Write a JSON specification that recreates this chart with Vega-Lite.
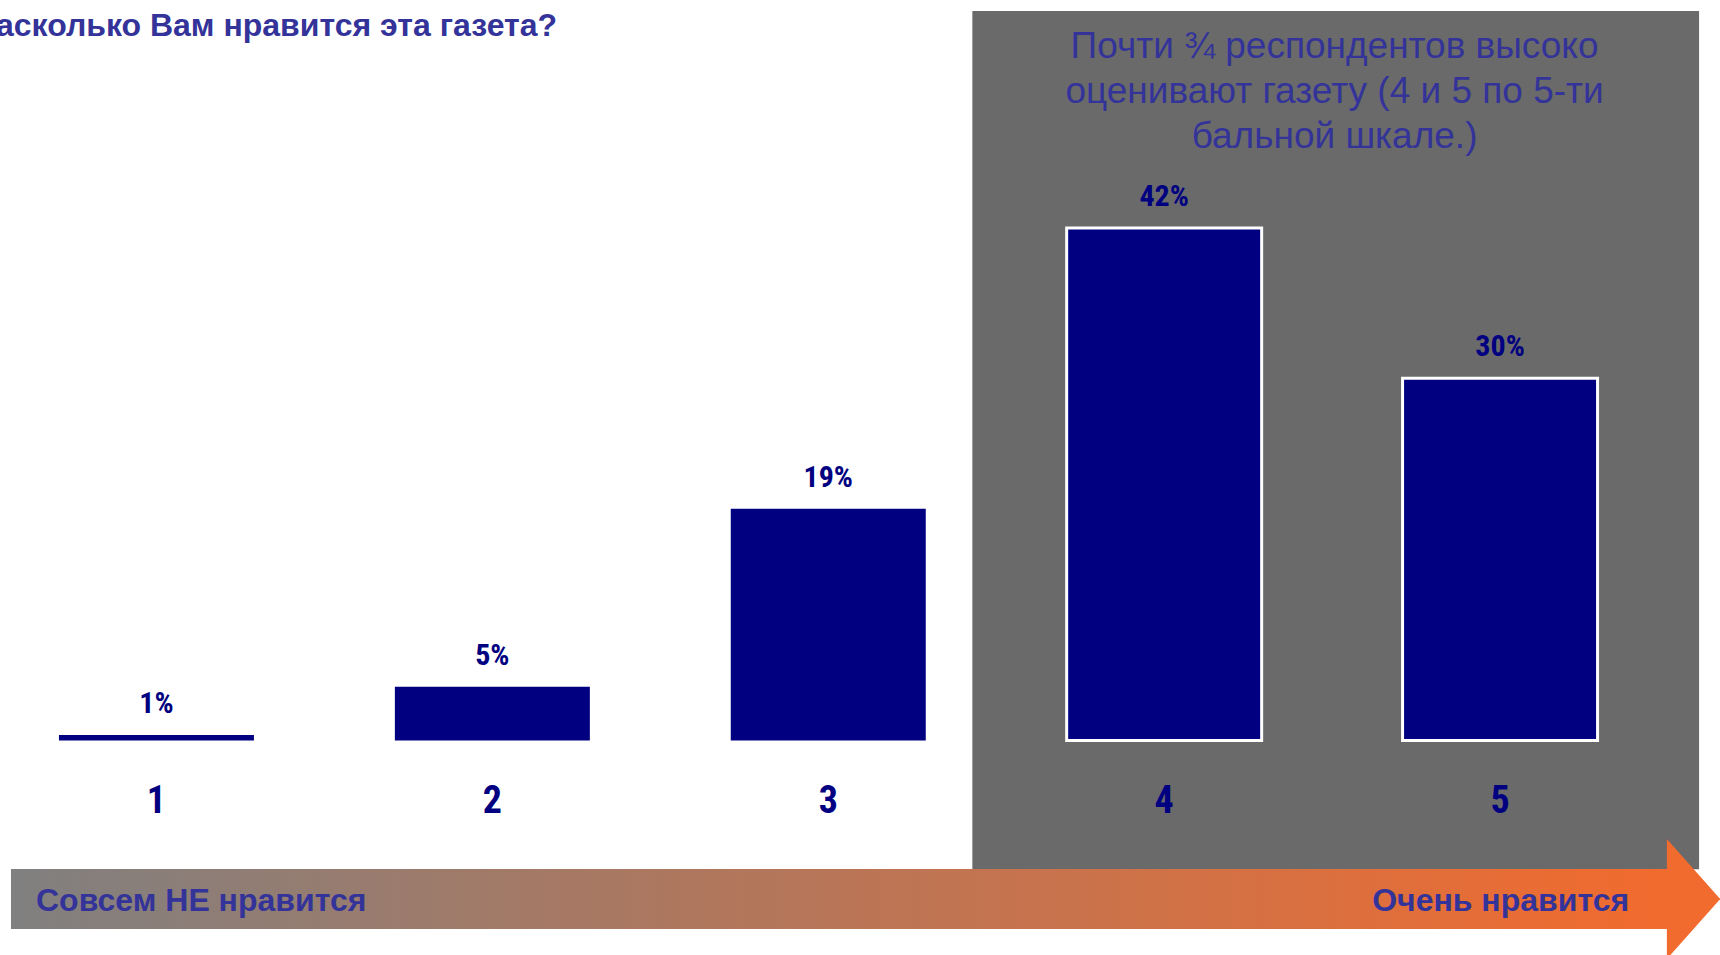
{
  "$schema": "https://vega.github.io/schema/vega-lite/v6.json",
  "width": 1720,
  "height": 955,
  "padding": 0,
  "autosize": {"type": "none"},
  "background": "#ffffff",
  "config": {"view": {"stroke": null}},
  "data": {"values": [
    {"rating": 1, "value": 0.45, "label": "1%"},
    {"rating": 2, "value": 4.4, "label": "5%"},
    {"rating": 3, "value": 19.0, "label": "19%"},
    {"rating": 4, "value": 42.0, "label": "42%"},
    {"rating": 5, "value": 29.7, "label": "30%"}
  ]},
  "resolve": {"scale": {"x": "independent"}, "axis": {"x": "independent"}},
  "layer": [
    {
      "data": {"values": [{}]},
      "mark": {"type": "rect", "fill": "#6a6a6a"},
      "encoding": {
        "x": {"datum": 3.4287, "type": "quantitative", "scale": {"domain": [0.5341, 5.6544], "nice": false, "zero": false}, "axis": null},
        "x2": {"datum": 5.5921},
        "y": {"datum": 59.8, "type": "quantitative", "scale": {"domain": [-17.582, 60.697], "nice": false, "zero": false}, "axis": null},
        "y2": {"datum": -10.557}
      }
    },
    {
      "data": {"values": [{}]},
      "mark": {"type": "rect", "fill": {"gradient": "linear", "x1": 0, "y1": 0, "x2": 1, "y2": 0, "stops": [{"offset": 0, "color": "#808080"}, {"offset": 1, "color": "#f26b2e"}]}},
      "encoding": {
        "x": {"datum": 0.5668, "type": "quantitative", "scale": {"domain": [0.5341, 5.6544], "nice": false, "zero": false}, "axis": null},
        "x2": {"datum": 5.4966},
        "y": {"datum": -10.533, "type": "quantitative", "scale": {"domain": [-17.582, 60.697], "nice": false, "zero": false}, "axis": null},
        "y2": {"datum": -15.451}
      }
    },
    {
      "data": {"values": [{}]},
      "mark": {"type": "point", "shape": "M -0.444 -1 L 0.444 0 L -0.444 1 Z", "size": 14400, "filled": true, "fill": "#f26b2e", "opacity": 1, "strokeWidth": 0},
      "encoding": {
        "x": {"datum": 5.5755, "type": "quantitative", "scale": {"domain": [0.5341, 5.6544], "nice": false, "zero": false}, "axis": null},
        "y": {"datum": -12.992, "type": "quantitative", "scale": {"domain": [-17.582, 60.697], "nice": false, "zero": false}, "axis": null}
      }
    },
    {
      "encoding": {
        "x": {
          "field": "rating", "type": "ordinal",
          "scale": {"paddingInner": 0.4195, "paddingOuter": 0.27, "align": 0.325},
          "axis": {"orient": "bottom", "title": null, "domain": false, "ticks": false, "tickSize": 0, "grid": false, "labelPadding": 0, "offset": -143, "labelBaseline": "alphabetic", "labelAngle": 0, "labelFont": "Roboto Condensed, Roboto, sans-serif", "labelFontWeight": "bold", "labelFontSize": 38, "labelColor": "#000080", "zindex": 1}
        },
        "y": {"field": "value", "type": "quantitative", "scale": {"domain": [-17.582, 60.697], "nice": false, "zero": false}, "axis": null}
      },
      "layer": [
        {
          "mark": {"type": "bar", "color": "#000080", "stroke": "#ffffff"},
          "encoding": {
            "strokeWidth": {"condition": {"test": "datum.rating >= 4", "value": 3}, "value": 0}
          }
        },
        {
          "mark": {"type": "text", "baseline": "alphabetic", "align": "center", "dy": -22, "font": "Roboto Condensed, Roboto, sans-serif", "fontWeight": "bold", "fontSize": 30, "color": "#000080"},
          "encoding": {"text": {"field": "label"}}
        }
      ]
    },
    {
      "data": {"values": [{}]},
      "mark": {"type": "text", "text": "Насколько Вам нравится эта газета?", "align": "right", "baseline": "alphabetic", "font": "Liberation Sans", "fontWeight": "bold", "fontSize": 32, "color": "#333399"},
      "encoding": {
        "x": {"datum": 2.1923, "type": "quantitative", "scale": {"domain": [0.5341, 5.6544], "nice": false, "zero": false}, "axis": null},
        "y": {"datum": 57.746, "type": "quantitative", "scale": {"domain": [-17.582, 60.697], "nice": false, "zero": false}, "axis": null}
      }
    },
    {
      "data": {"values": [{}]},
      "mark": {"type": "text", "text": ["Почти ¾ респондентов высоко", "оценивают газету (4 и 5 по 5-ти", "бальной шкале.)"], "align": "center", "baseline": "alphabetic", "lineHeight": 45, "font": "Liberation Sans", "fontSize": 37, "color": "#333399"},
      "encoding": {
        "x": {"datum": 4.507, "type": "quantitative", "scale": {"domain": [0.5341, 5.6544], "nice": false, "zero": false}, "axis": null},
        "y": {"datum": 55.94, "type": "quantitative", "scale": {"domain": [-17.582, 60.697], "nice": false, "zero": false}, "axis": null}
      }
    },
    {
      "data": {"values": [{}]},
      "mark": {"type": "text", "text": "Совсем НЕ нравится", "align": "left", "baseline": "alphabetic", "font": "Liberation Sans", "fontWeight": "bold", "fontSize": 32, "color": "#333399"},
      "encoding": {
        "x": {"datum": 0.6413, "type": "quantitative", "scale": {"domain": [0.5341, 5.6544], "nice": false, "zero": false}, "axis": null},
        "y": {"datum": -13.975, "type": "quantitative", "scale": {"domain": [-17.582, 60.697], "nice": false, "zero": false}, "axis": null}
      }
    },
    {
      "data": {"values": [{}]},
      "mark": {"type": "text", "text": "Очень нравится", "align": "right", "baseline": "alphabetic", "font": "Liberation Sans", "fontWeight": "bold", "fontSize": 32, "color": "#333399"},
      "encoding": {
        "x": {"datum": 5.3838, "type": "quantitative", "scale": {"domain": [0.5341, 5.6544], "nice": false, "zero": false}, "axis": null},
        "y": {"datum": -13.975, "type": "quantitative", "scale": {"domain": [-17.582, 60.697], "nice": false, "zero": false}, "axis": null}
      }
    }
  ]
}
